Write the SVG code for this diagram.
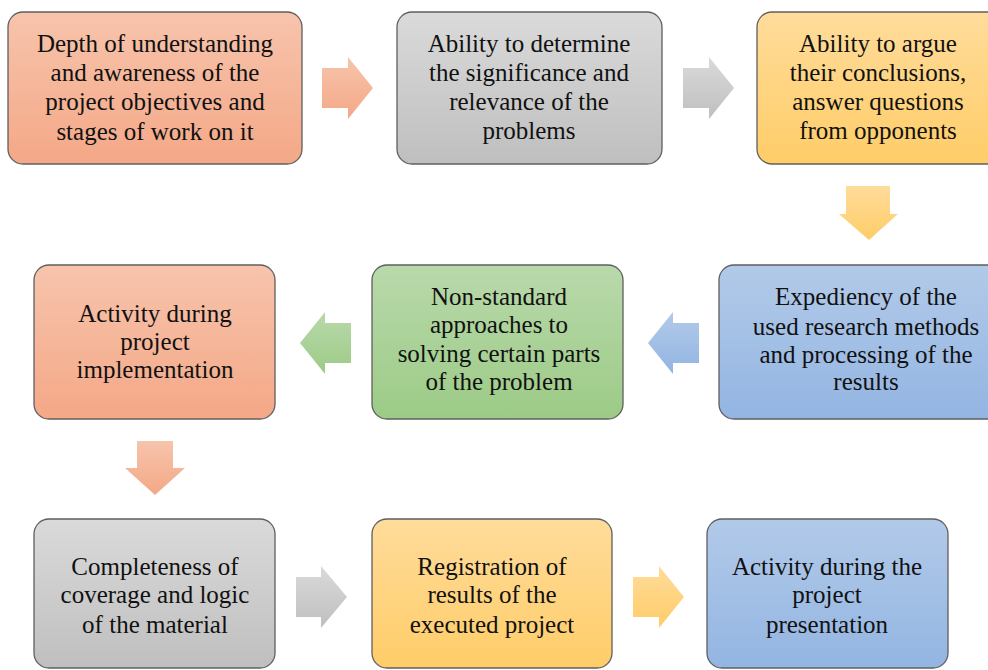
<svg xmlns="http://www.w3.org/2000/svg" width="988" height="670" viewBox="0 0 988 670">
<defs>
<linearGradient id="gOr" x1="0" y1="0" x2="0" y2="1"><stop offset="0" stop-color="#F7C4AC"/><stop offset="1" stop-color="#F4A887"/></linearGradient>
<linearGradient id="gGy" x1="0" y1="0" x2="0" y2="1"><stop offset="0" stop-color="#DADADA"/><stop offset="1" stop-color="#BFBFBF"/></linearGradient>
<linearGradient id="gYe" x1="0" y1="0" x2="0" y2="1"><stop offset="0" stop-color="#FFDC9B"/><stop offset="1" stop-color="#FFCD68"/></linearGradient>
<linearGradient id="gBl" x1="0" y1="0" x2="0" y2="1"><stop offset="0" stop-color="#B2CAE9"/><stop offset="1" stop-color="#93B5E2"/></linearGradient>
<linearGradient id="gGr" x1="0" y1="0" x2="0" y2="1"><stop offset="0" stop-color="#B9D9AB"/><stop offset="1" stop-color="#9CCB86"/></linearGradient>
</defs>
<style>
.box{stroke:#5F5F5F;stroke-width:1.3}
.t{font-size:25px;fill:#111;text-anchor:middle}
</style>
<rect width="988" height="670" fill="#FFFFFF"/>
<g id="connectors">
<path d="M322,68 H348 V57 L373,88 L348,119 V108 H322 Z" fill="url(#gOr)"/>
<path d="M683,68 H709 V57 L734,88 L709,119 V108 H683 Z" fill="url(#gGy)"/>
<path d="M846,186 H890 V214 H898 L869,240 L839,214 H846 Z" fill="url(#gYe)"/>
<path d="M699,323 H673 V312 L648,343 L673,374 V363 H699 Z" fill="url(#gBl)"/>
<path d="M351,323 H325 V312 L300,343 L325,374 V363 H351 Z" fill="url(#gGr)"/>
<path d="M137,441 H173 V468 H185 L155,495 L125,468 H137 Z" fill="url(#gOr)"/>
<path d="M296,577 H321 V566 L347,597 L321,628 V617 H296 Z" fill="url(#gGy)"/>
<path d="M633,577 H659 V566 L684,597 L659,628 V617 H633 Z" fill="url(#gYe)"/>
</g>
<g font-family="Liberation Serif, DejaVu Serif, serif">
<g id="n1">
<rect class="box" x="8" y="12" width="294" height="152" rx="15" fill="url(#gOr)"/>
<text class="t" x="155" y="52">Depth of understanding</text>
<text class="t" x="155" y="81">and awareness of the</text>
<text class="t" x="155" y="110">project objectives and</text>
<text class="t" x="155" y="140">stages of work on it</text>
</g>
<g id="n2">
<rect class="box" x="397" y="12" width="265" height="152" rx="15" fill="url(#gGy)"/>
<text class="t" x="529" y="52">Ability to determine</text>
<text class="t" x="529" y="81">the significance and</text>
<text class="t" x="529" y="110">relevance of the</text>
<text class="t" x="529" y="139">problems</text>
</g>
<g id="n3">
<rect class="box" x="757" y="12" width="250" height="152" rx="15" fill="url(#gYe)"/>
<text class="t" x="878" y="52">Ability to argue</text>
<text class="t" x="878" y="81">their conclusions,</text>
<text class="t" x="878" y="110">answer questions</text>
<text class="t" x="878" y="139">from opponents</text>
</g>
<g id="n4">
<rect class="box" x="34" y="265" width="241" height="154" rx="15" fill="url(#gOr)"/>
<text class="t" x="155" y="322">Activity during</text>
<text class="t" x="155" y="350">project</text>
<text class="t" x="155" y="378">implementation</text>
</g>
<g id="n5">
<rect class="box" x="372" y="265" width="251" height="154" rx="15" fill="url(#gGr)"/>
<text class="t" x="499" y="305">Non-standard</text>
<text class="t" x="499" y="333">approaches to</text>
<text class="t" x="499" y="362">solving certain parts</text>
<text class="t" x="499" y="390">of the problem</text>
</g>
<g id="n6">
<rect class="box" x="719" y="265" width="290" height="154" rx="15" fill="url(#gBl)"/>
<text class="t" x="866" y="305">Expediency of the</text>
<text class="t" x="866" y="335">used research methods</text>
<text class="t" x="866" y="363">and processing of the</text>
<text class="t" x="866" y="390">results</text>
</g>
<g id="n7">
<rect class="box" x="34" y="519" width="241" height="149" rx="15" fill="url(#gGy)"/>
<text class="t" x="155" y="575">Completeness of</text>
<text class="t" x="155" y="603">coverage and logic</text>
<text class="t" x="155" y="633">of the material</text>
</g>
<g id="n8">
<rect class="box" x="372" y="519" width="240" height="149" rx="15" fill="url(#gYe)"/>
<text class="t" x="492" y="575">Registration of</text>
<text class="t" x="492" y="603">results of the</text>
<text class="t" x="492" y="633">executed project</text>
</g>
<g id="n9">
<rect class="box" x="707" y="519" width="241" height="149" rx="15" fill="url(#gBl)"/>
<text class="t" x="827" y="575">Activity during the</text>
<text class="t" x="827" y="603">project</text>
<text class="t" x="827" y="633">presentation</text>
</g>
</g>
</svg>
